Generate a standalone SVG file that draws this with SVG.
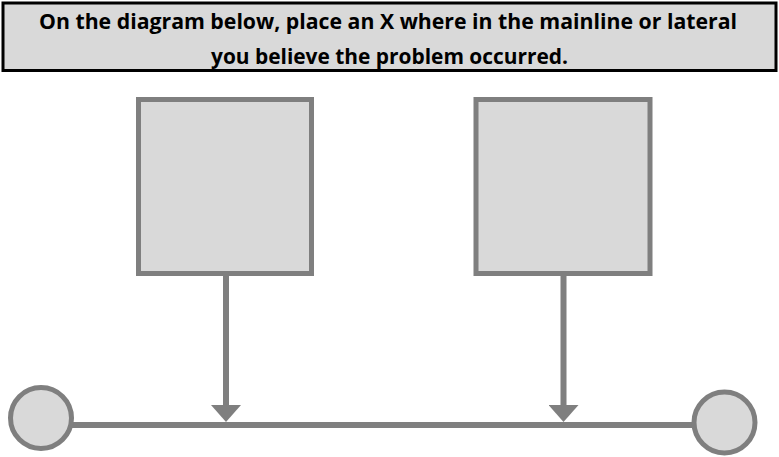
<svg xmlns="http://www.w3.org/2000/svg" width="779" height="457" viewBox="0 0 779 457">
  <style>
    .node { fill: #d9d9d9; stroke: #7f7f7f; stroke-width: 5; }
    .conn { stroke: #7f7f7f; stroke-width: 6; fill: none; }
    .title { font-family: "Open Sans", "Liberation Sans", Arial, sans-serif; font-weight: bold; font-size: 21px; fill: #000; text-anchor: middle; }
  </style>
  <defs>
    <marker id="arrow" markerUnits="userSpaceOnUse" viewBox="0 0 17 30" markerWidth="17" markerHeight="30" refX="1" refY="15" orient="auto">
      <path d="M0,0 L17,15 L0,30 Z" fill="#7f7f7f"/>
    </marker>
  </defs>
  <rect width="779" height="457" fill="#ffffff"/>
  <g id="header">
    <rect x="3" y="3" width="773" height="67.5" fill="#d9d9d9" stroke="#000000" stroke-width="3"/>
    <text class="title" x="388" y="29" textLength="698" lengthAdjust="spacingAndGlyphs">On the diagram below, place an X where in the mainline or lateral</text>
    <text class="title" x="389.5" y="63.5" textLength="357" lengthAdjust="spacingAndGlyphs">you believe the problem occurred.</text>
  </g>
  <g id="connectors">
    <line class="conn" x1="72" y1="425" x2="694" y2="425"/>
    <line class="conn" x1="226" y1="276" x2="226" y2="406" marker-end="url(#arrow)"/>
    <line class="conn" x1="563.5" y1="276" x2="563.5" y2="406" marker-end="url(#arrow)"/>
  </g>
  <g id="box-left">
    <rect class="node" x="138.5" y="99.5" width="173" height="174"/>
  </g>
  <g id="box-right">
    <rect class="node" x="476" y="99.5" width="174" height="174"/>
  </g>
  <g id="circle-left">
    <circle class="node" cx="41" cy="418" r="30.5"/>
  </g>
  <g id="circle-right">
    <circle class="node" cx="724.5" cy="422.5" r="30.5"/>
  </g>
</svg>
